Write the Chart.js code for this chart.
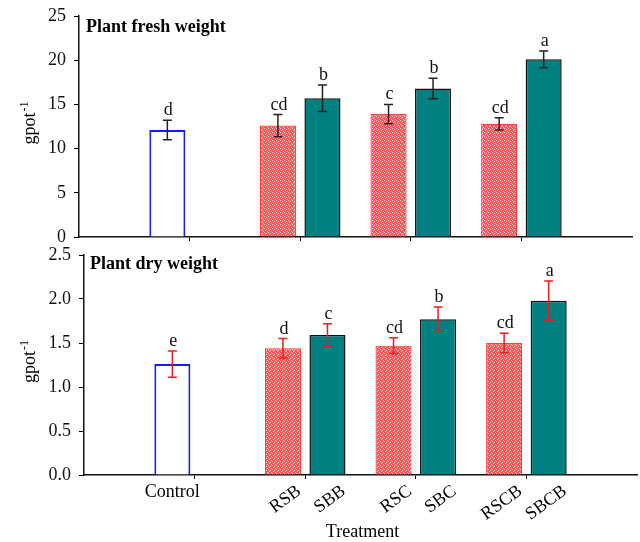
<!DOCTYPE html>
<html>
<head>
<meta charset="utf-8">
<script src="https://cdn.jsdelivr.net/npm/chart.js@4.4.1/dist/chart.umd.min.js"></script>
<style>
  html, body { margin: 0; padding: 0; background: #fff; }
  #wrap { position: relative; width: 640px; height: 542px; }
  .panel { position: absolute; left: 0; width: 640px; }
</style>
</head>
<body>
<div id="wrap">
  <div class="panel" style="top:0;height:245px"><canvas id="fresh" width="640" height="245"></canvas></div>
  <div class="panel" style="top:245px;height:297px"><canvas id="dry" width="640" height="297"></canvas></div>
</div>
<script>
// Treatments, in drawing order
const treatments = ['Control', 'RSB', 'SBB', 'RSC', 'SBC', 'RSCB', 'SBCB'];
// Category slots along the x axis (first and last are empty margins)
const slots = ['', 'Control', 'SB', 'SC', 'SCB', ''];
// Which slot and which series (0 = control / RS*, 1 = SB*) each treatment belongs to
const slotOf = [1, 2, 2, 3, 3, 4, 4];
const seriesOf = [0, 0, 1, 0, 1, 0, 1];

// Plant fresh weight (g pot^-1)
const freshMean = [12.1, 12.6, 15.7, 13.9, 16.8, 12.8, 20.1];
const freshErr = [1.1, 1.25, 1.5, 1.1, 1.15, 0.7, 0.95];
const freshLetters = ['d', 'cd', 'b', 'c', 'b', 'cd', 'a'];
const freshTicks = [0, 5, 10, 15, 20, 25];

// Plant dry weight (g pot^-1)
const dryMean = [1.26, 1.44, 1.59, 1.47, 1.77, 1.50, 1.98];
const dryErr = [0.15, 0.11, 0.13, 0.09, 0.14, 0.11, 0.225];
const dryLetters = ['e', 'd', 'c', 'cd', 'b', 'cd', 'a'];
const dryTicks = [0, 0.5, 1.0, 1.5, 2.0, 2.5];

const SERIF = "'Liberation Serif', 'Times New Roman', serif";

function dotPattern() {
  const c = document.createElement('canvas');
  c.width = 4; c.height = 4;
  const g = c.getContext('2d');
  g.fillStyle = '#ff5252';
  g.fillRect(0, 0, 4, 4);
  g.fillStyle = '#ffdcdc';
  [[0, 0], [2, 1], [1, 2], [3, 3]].forEach(([x, y]) => g.fillRect(x, y, 1, 1));
  return g.createPattern(c, 'repeat');
}
const redDots = dotPattern();

// For each series, the treatment index sitting in every slot (or -1)
function seriesIndex(s) {
  return slots.map((_, k) => treatments.findIndex((t, i) => slotOf[i] === k && seriesOf[i] === s));
}

function fillFor(i) {
  if (i === 0) return '#ffffff';
  return seriesOf[i] === 0 ? redDots : '#008080';
}
function borderFor(i) {
  if (i === 0) return '#1a1aff';
  return seriesOf[i] === 0 ? '#ff3b3b' : '#111111';
}
function borderWidthFor(i) {
  if (i === 0) return 2;
  return seriesOf[i] === 0 ? 1.2 : 1.5;
}

function makeDatasets(means) {
  return [0, 1].map(s => {
    const idx = seriesIndex(s);
    return {
      treatmentIndex: idx,
      data: idx.map(i => (i >= 0 ? means[i] : null)),
      backgroundColor: ctx => fillFor(idx[ctx.dataIndex]),
      borderColor: ctx => borderFor(idx[ctx.dataIndex]),
      borderWidth: ctx => borderWidthFor(idx[ctx.dataIndex]),
      borderSkipped: 'start',
      categoryPercentage: 0.805,
      barPercentage: 0.81
    };
  });
}

// Error bars, significance letters, panel title and axis titles
const annotate = {
  id: 'annotate',
  afterDatasetsDraw(chart, args, o) {
    const ctx = chart.ctx;
    const y = chart.scales.y;
    ctx.save();
    chart.data.datasets.forEach((ds, di) => {
      const meta = chart.getDatasetMeta(di);
      meta.data.forEach((el, k) => {
        const i = ds.treatmentIndex[k];
        if (i < 0) return;
        const x = el.x;
        const top = y.getPixelForValue(o.mean[i] + o.err[i]);
        const bot = y.getPixelForValue(o.mean[i] - o.err[i]);
        ctx.strokeStyle = o.errColor;
        ctx.lineWidth = 1.5;
        ctx.beginPath();
        ctx.moveTo(x, top); ctx.lineTo(x, bot);
        ctx.moveTo(x - 4.5, top); ctx.lineTo(x + 4.5, top);
        ctx.moveTo(x - 4.5, bot); ctx.lineTo(x + 4.5, bot);
        ctx.stroke();
        ctx.fillStyle = '#111';
        ctx.font = '18px ' + SERIF;
        ctx.textAlign = 'center';
        ctx.textBaseline = 'alphabetic';
        ctx.fillText(o.letters[i], x + 1, top - 5);
      });
    });
    ctx.restore();
  },
  afterDraw(chart, args, o) {
    const ctx = chart.ctx;
    const area = chart.chartArea;
    ctx.save();
    ctx.fillStyle = '#000';
    // panel title
    ctx.font = 'bold 18px ' + SERIF;
    ctx.textAlign = 'left';
    ctx.textBaseline = 'alphabetic';
    ctx.fillText(o.title, area.left + o.titleDx, area.top + o.titleDy);

    // y axis title: g pot^-1, rotated
    const big = '18px ' + SERIF, small = '12px ' + SERIF;
    ctx.font = big;
    const w1 = ctx.measureText('gpot').width;
    ctx.font = small;
    const w2 = ctx.measureText('-1').width;
    const cy = (area.top + area.bottom) / 2 - 3;
    ctx.translate(35, cy + (w1 + w2) / 2);
    ctx.rotate(-Math.PI / 2);
    ctx.textAlign = 'left';
    ctx.font = big;
    ctx.fillText('gpot', 0, 0);
    ctx.font = small;
    ctx.fillText('-1', w1 + 1, -7);
    ctx.setTransform(1, 0, 0, 1, 0, 0);

    // category labels under the lower panel
    if (o.xLabels) {
      chart.data.datasets.forEach((ds, di) => {
        const meta = chart.getDatasetMeta(di);
        meta.data.forEach((el, k) => {
          const i = ds.treatmentIndex[k];
          if (i < 0) return;
          ctx.font = '18px ' + SERIF;
          ctx.fillStyle = '#000';
          if (i === 0) {
            ctx.textAlign = 'center';
            ctx.textBaseline = 'middle';
            ctx.fillText(treatments[i], el.x, area.bottom + 17);
          } else {
            ctx.save();
            ctx.translate(el.x + 11, area.bottom + 7);
            ctx.rotate(-0.63);
            ctx.textAlign = 'right';
            ctx.textBaseline = 'top';
            ctx.fillText(treatments[i], 0, 0);
            ctx.restore();
          }
        });
      });
      ctx.font = '18px ' + SERIF;
      ctx.textAlign = 'center';
      ctx.textBaseline = 'middle';
      ctx.fillText('Treatment', (area.left + area.right) / 2 + 2, area.bottom + 57);
    }
    ctx.restore();
  }
};

function makeChart(id, opts) {
  const canvas = document.getElementById(id);
  const H = canvas.height;
  return new Chart(canvas, {
    type: 'bar',
    data: { labels: slots, datasets: makeDatasets(opts.mean) },
    options: {
      responsive: false,
      animation: false,
      layout: { padding: { left: 0, right: opts.padRight, top: opts.padTop, bottom: 0 } },
      plugins: {
        legend: { display: false },
        tooltip: { enabled: false },
        annotate: opts
      },
      scales: {
        x: {
          type: 'category',
          offset: false,
          grid: { offset: false, drawOnChartArea: false, drawTicks: true, tickLength: 4, color: '#000', lineWidth: 1 },
          border: { display: true, color: '#111', width: 1.5 },
          ticks: { display: false },
          afterBuildTicks: s => { s.ticks = s.ticks.filter(t => t.value > 0 && t.value < slots.length - 1); },
          afterFit: s => {
            s.height = H - opts.plotBottom;
            s.paddingLeft = 0; s.paddingRight = 0;
          }
        },
        y: {
          min: opts.ticks[0],
          max: opts.ticks[opts.ticks.length - 1],
          afterBuildTicks: s => { s.ticks = opts.ticks.map(v => ({ value: v })); },
          grid: { drawOnChartArea: false, drawTicks: true, tickLength: 5, color: '#000', lineWidth: 1 },
          border: { display: true, color: '#111', width: 1.5 },
          ticks: {
            color: '#111',
            padding: 8,
            font: { family: SERIF, size: 18 },
            callback: v => opts.fmt(v)
          },
          afterFit: s => {
            s.width = opts.plotLeft;
            s.paddingTop = 0; s.paddingBottom = 0;
          }
        }
      }
    },
    plugins: [annotate]
  });
}

makeChart('fresh', {
  mean: freshMean, err: freshErr, letters: freshLetters, ticks: freshTicks,
  fmt: v => String(v), errColor: '#222',
  title: 'Plant fresh weight', titleDx: 7, titleDy: 16,
  plotLeft: 79, padRight: 8, padTop: 16, plotBottom: 237, xLabels: false
});

makeChart('dry', {
  mean: dryMean, err: dryErr, letters: dryLetters, ticks: dryTicks,
  fmt: v => v.toFixed(1), errColor: '#ee1c1c',
  title: 'Plant dry weight', titleDx: 6, titleDy: 14,
  plotLeft: 84, padRight: 3, padTop: 10, plotBottom: 230, xLabels: true
});
</script>
</body>
</html>
